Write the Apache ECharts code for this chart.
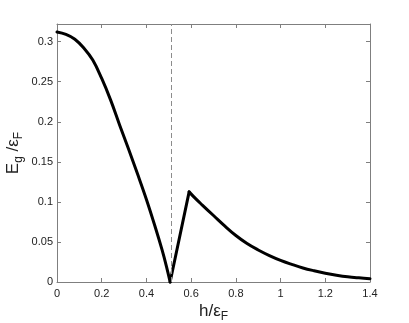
<!DOCTYPE html>
<html>
<head>
<meta charset="utf-8">
<script src="https://cdn.jsdelivr.net/npm/echarts@6/dist/echarts.min.js"></script>
<style>
html,body{margin:0;padding:0;background:#fff;}
#c{width:409px;height:323px;}
</style>
</head>
<body>
<div id="c"></div>
<script>
// gap curve E_g/eps_F vs h/eps_F, three branches
const hLeft = [0, 0.04, 0.08, 0.12, 0.16, 0.20, 0.24, 0.28, 0.32, 0.36, 0.40, 0.44, 0.47, 0.49, 0.506];
const gapLeft = [0.312, 0.309, 0.303, 0.292, 0.277, 0.254, 0.227, 0.196, 0.166, 0.135, 0.103, 0.068, 0.040, 0.019, 0.0];
const hRise = [0.506, 0.591];
const gapRise = [0.0, 0.1125];
const hRight = [0.591, 0.62, 0.65, 0.70, 0.75, 0.80, 0.85, 0.90, 0.95, 1.00, 1.05, 1.10, 1.15, 1.20, 1.25, 1.30, 1.35, 1.40];
const gapRight = [0.1125, 0.104, 0.096, 0.083, 0.070, 0.058, 0.048, 0.040, 0.033, 0.027, 0.022, 0.0175, 0.014, 0.011, 0.0085, 0.0065, 0.0052, 0.0042];
const criticalH = 0.508;
const xTicks = [0, 0.2, 0.4, 0.6, 0.8, 1, 1.2, 1.4];
const yTicks = [0, 0.05, 0.1, 0.15, 0.2, 0.25, 0.3];

const FONT = '"Liberation Sans", Arial, sans-serif';
const frame = '#7f7f7f';
const pairs = (xs, ys) => xs.map((x, i) => [x, ys[i]]);

const chart = echarts.init(document.getElementById('c'), null, {renderer: 'canvas'});
const baseX = {
  type: 'value', min: 0, max: 1.4, interval: 0.2,
  axisLine: {show: true, onZero: false, lineStyle: {color: frame, width: 1}},
  axisTick: {show: true, inside: true, length: 4, lineStyle: {color: frame}},
  splitLine: {show: false}
};
const baseY = {
  type: 'value', min: 0, max: 0.322, interval: 0.05,
  axisLine: {show: true, onZero: false, lineStyle: {color: frame, width: 1}},
  axisTick: {show: true, inside: true, length: 4, lineStyle: {color: frame}},
  splitLine: {show: false}
};
const lineSeries = (data, smooth) => ({
  type: 'line', data: data, showSymbol: false, smooth: smooth, clip: false,
  lineStyle: {color: '#000', width: 3, cap: 'round', join: 'round'}, z: 3
});
const rich = {
  n: {fontFamily: FONT, fontSize: 17, color: '#222', lineHeight: 20, verticalAlign: 'top'},
  s: {fontFamily: FONT, fontSize: 12, color: '#222', lineHeight: 20, verticalAlign: 'bottom'}
};
chart.setOption({
  animation: false,
  backgroundColor: '#fff',
  grid: {left: 57, right: 39, top: 24, bottom: 41, containLabel: false, outerBoundsMode: 'none'},
  xAxis: [
    Object.assign({}, baseX, {
      position: 'bottom',
      axisLabel: {show: true, fontFamily: FONT, fontSize: 11, color: '#222', margin: 6,
        formatter: v => xTicks.includes(+v.toFixed(2)) ? String(+v.toFixed(2)) : ''},
      name: '{n|h/ε}{s|F}', nameLocation: 'middle', nameGap: 21, nameMoveOverlap: false,
      nameTextStyle: {rich: rich}
    }),
    Object.assign({}, baseX, {position: 'top', axisLabel: {show: false}})
  ],
  yAxis: [
    Object.assign({}, baseY, {
      position: 'left',
      axisLabel: {show: true, fontFamily: FONT, fontSize: 11, color: '#222', margin: 4, showMaxLabel: false,
        formatter: v => yTicks.includes(+v.toFixed(3)) ? String(+v.toFixed(3)) : ''},
      name: '{n|E}{s|g}{n| /ε}{s|F}', nameLocation: 'middle', nameGap: 32, nameRotate: 90, nameMoveOverlap: false,
      nameTextStyle: {rich: rich}
    }),
    Object.assign({}, baseY, {position: 'right', axisLabel: {show: false}})
  ],
  series: [
    Object.assign(lineSeries(pairs(hLeft, gapLeft), 0.4), {
      markLine: {
        silent: true, symbol: 'none', label: {show: false},
        lineStyle: {color: '#8c8c8c', type: [5, 3], width: 1},
        data: [{xAxis: criticalH}]
      }
    }),
    lineSeries(pairs(hRise, gapRise), false),
    lineSeries(pairs(hRight, gapRight), 0.4)
  ]
});
</script>
</body>
</html>
